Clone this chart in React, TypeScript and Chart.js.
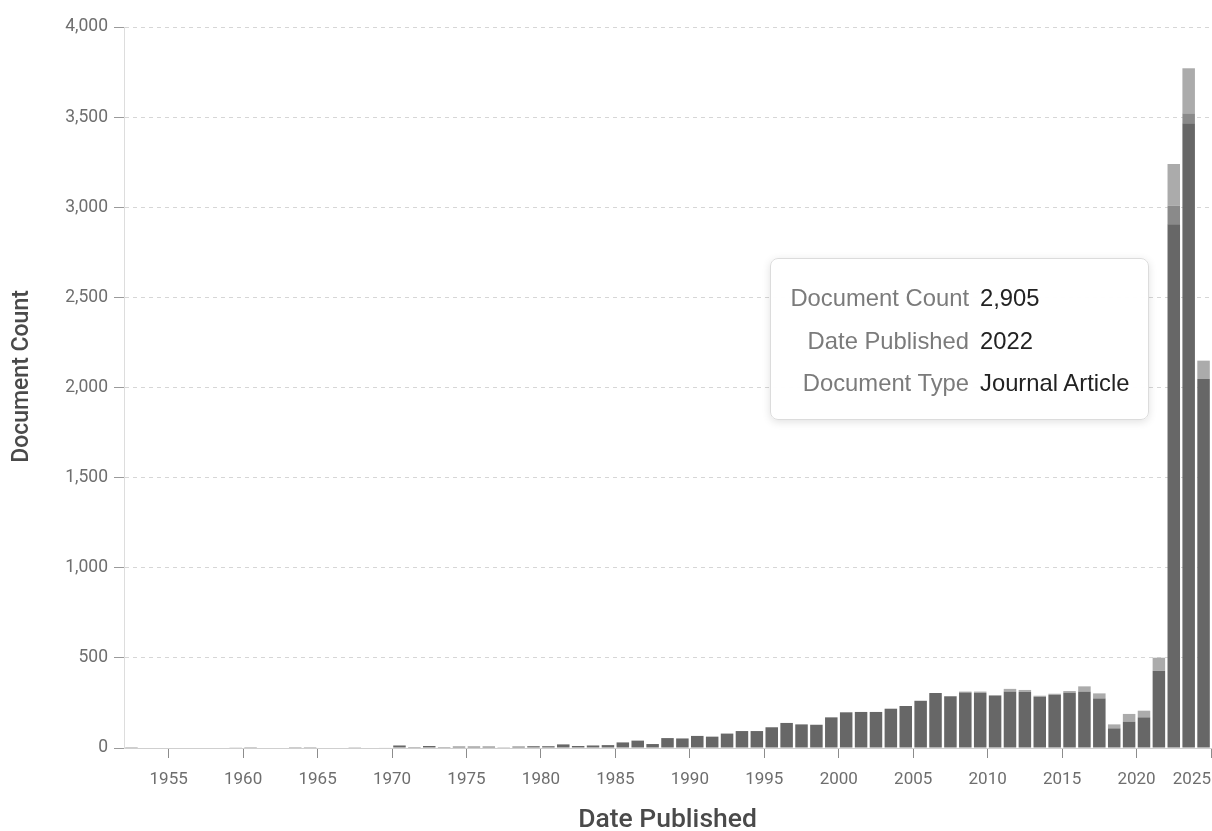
import React, { useEffect, useRef } from "react";
import { Chart, registerables } from "chart.js";

Chart.register(...registerables);

// Publication years (one bar per year, each bar spans [year, year + 1])
const years = [
  1952, 1953, 1954, 1955, 1956, 1957, 1958, 1959, 1960, 1961,
  1962, 1963, 1964, 1965, 1966, 1967, 1968, 1969, 1970, 1971,
  1972, 1973, 1974, 1975, 1976, 1977, 1978, 1979, 1980, 1981,
  1982, 1983, 1984, 1985, 1986, 1987, 1988, 1989, 1990, 1991,
  1992, 1993, 1994, 1995, 1996, 1997, 1998, 1999, 2000, 2001,
  2002, 2003, 2004, 2005, 2006, 2007, 2008, 2009, 2010, 2011,
  2012, 2013, 2014, 2015, 2016, 2017, 2018, 2019, 2020, 2021,
  2022, 2023, 2024,
];

// Document counts by type
const journalArticle = [
  1, 0, 0, 0, 0, 0, 0, 2, 1, 0,
  0, 1, 1, 0, 0, 4, 0, 3, 14, 5,
  11, 5, 8, 8, 8, 4, 8, 10, 10, 20,
  11, 14, 16, 31, 41, 22, 55, 53, 67, 63,
  80, 94, 94, 115, 139, 131, 129, 170, 198, 200,
  200, 218, 233, 262, 305, 287, 308, 305, 290, 313,
  311, 284, 294, 307, 313, 275, 109, 146, 170, 429,
  2905, 3466, 2047,
];

const conferencePaper = [
  0, 0, 0, 0, 0, 0, 0, 0, 0, 0,
  0, 0, 0, 0, 0, 0, 0, 0, 0, 0,
  0, 0, 0, 0, 0, 0, 0, 0, 0, 0,
  0, 0, 0, 0, 0, 0, 0, 0, 0, 0,
  0, 0, 0, 0, 0, 0, 0, 0, 0, 0,
  0, 0, 0, 0, 0, 0, 0, 0, 0, 0,
  0, 0, 0, 0, 0, 0, 0, 0, 0, 0,
  104, 55, 0,
];

const otherTypes = [
  0, 0, 0, 0, 0, 0, 0, 0, 0, 0,
  0, 0, 0, 0, 0, 0, 0, 0, 0, 0,
  0, 0, 0, 0, 0, 0, 0, 0, 0, 0,
  0, 0, 0, 0, 0, 0, 0, 0, 0, 0,
  0, 0, 0, 0, 0, 0, 0, 0, 0, 0,
  0, 0, 0, 0, 0, 0, 5, 8, 4, 15,
  11, 6, 7, 9, 29, 28, 22, 43, 37, 72,
  231, 250, 102,
];

const xDomainStart = 1952;
const xDomainEnd = 2025;
const xTickYears = [1955, 1960, 1965, 1970, 1975, 1980, 1985, 1990, 1995, 2000, 2005, 2010, 2015, 2020, 2025];
const yMax = 4000;
const yStep = 500;

const xTitle = "Date Published";
const yTitle = "Document Count";

const tooltipYear = 2022;
const tooltipType = "Journal Article";

const fmt = (v: number) => v.toLocaleString("en-US");

const axisTitlePlugin = {
  id: "axisTitles",
  afterDraw(chart: any) {
    const { ctx, chartArea } = chart;
    ctx.save();
    ctx.fillStyle = "#4a4a4a";
    ctx.textAlign = "center";
    ctx.textBaseline = "middle";
    ctx.font = "500 26.5px Roboto";
    ctx.fillText(xTitle, (chartArea.left + chartArea.right) / 2, 820);
    ctx.translate(22, (chartArea.top + chartArea.bottom) / 2 - 11);
    ctx.rotate(-Math.PI / 2);
    ctx.font = "500 23px Roboto";
    ctx.fillText(yTitle, 0, 0);
    ctx.restore();
  },
};

export default function App() {
  const canvasRef = useRef<HTMLCanvasElement | null>(null);

  useEffect(() => {
    if (!canvasRef.current) return;
    const toPoints = (arr: number[]) => arr.map((v, i) => ({ x: years[i] + 0.5, y: v }));
    const barOpts = { barPercentage: 0.84, categoryPercentage: 1, borderWidth: 0 };
    const chart = new Chart(canvasRef.current, {
      type: "bar",
      data: {
        datasets: [
          { label: "Journal Article", data: toPoints(journalArticle), backgroundColor: "#676767", ...barOpts },
          { label: "Conference Paper", data: toPoints(conferencePaper), backgroundColor: "#8a8a8a", ...barOpts },
          { label: "Other", data: toPoints(otherTypes), backgroundColor: "#ababab", ...barOpts },
        ],
      },
      plugins: [axisTitlePlugin],
      options: {
        animation: false,
        responsive: false,
        devicePixelRatio: 1,
        layout: { padding: { top: 27, right: 1, bottom: 0, left: 0 } },
        plugins: { legend: { display: false }, tooltip: { enabled: false } },
        scales: {
          x: {
            type: "linear",
            stacked: true,
            offset: false,
            min: xDomainStart,
            max: xDomainEnd,
            afterBuildTicks: (axis: any) => {
              axis.ticks = [xDomainStart, ...xTickYears].map((v) => ({ value: v }));
            },
            afterFit: (scale: any) => {
              scale.height = 83;
              scale.paddingLeft = 0;
              scale.paddingRight = 0;
            },
            grid: {
              offset: false,
              drawOnChartArea: false,
              drawTicks: true,
              tickLength: 10,
              tickColor: (ctx: any) => (ctx.tick && ctx.tick.value === xDomainStart ? "rgba(0,0,0,0)" : "#8c8c8c"),
            },
            border: { display: true, color: "#cfcfcf", width: 1 },
            ticks: {
              autoSkip: false,
              maxRotation: 0,
              minRotation: 0,
              align: "inner",
              padding: 12,
              color: "#6e6e6e",
              font: { family: "Roboto", size: 17 },
              callback: (v: any) => (v === xDomainStart ? "" : String(v)),
            },
          },
          y: {
            stacked: true,
            min: 0,
            max: yMax,
            afterFit: (scale: any) => {
              scale.width = 124;
            },
            grid: {
              color: "#d6d6d6",
              drawTicks: true,
              tickLength: 10,
              tickColor: "#9a9a9a",
              tickBorderDash: [],
            },
            border: { display: true, color: "#dddddd", width: 1, dash: [4, 4] },
            ticks: {
              stepSize: yStep,
              padding: 6,
              color: "#6e6e6e",
              font: { family: "Roboto", size: 17.5 },
              callback: (v: any) => fmt(Number(v)),
            },
          },
        },
      } as any,
    });
    return () => chart.destroy();
  }, []);

  const idx = years.indexOf(tooltipYear);
  const rows: [string, string][] = [
    ["Document Count", fmt(journalArticle[idx])],
    ["Date Published", String(tooltipYear)],
    ["Document Type", tooltipType],
  ];

  return (
    <div style={{ position: "fixed", left: 0, top: 0, width: 1212, height: 831, background: "#fff", overflow: "hidden" }}>
      <canvas ref={canvasRef} width={1212} height={831} style={{ display: "block", width: 1212, height: 831 }} />
      <div
        style={{
          position: "absolute",
          left: 770,
          top: 258,
          width: 379,
          height: 162,
          boxSizing: "border-box",
          background: "rgba(255,255,255,0.97)",
          border: "1px solid #dcdcdc",
          borderRadius: 8,
          boxShadow: "0 2px 8px rgba(0,0,0,0.12)",
          fontFamily: "'Liberation Sans', Arial, sans-serif",
          fontSize: 23.8,
        }}
      >
        {rows.map(([k, v], i) => (
          <div key={k} style={{ position: "absolute", left: 0, right: 0, top: 24 + i * 42.7, height: 30, lineHeight: "30px" }}>
            <span style={{ position: "absolute", right: 179, color: "#7b7b7b", whiteSpace: "nowrap" }}>{k}</span>
            <span style={{ position: "absolute", left: 209, color: "#222", whiteSpace: "nowrap" }}>{v}</span>
          </div>
        ))}
      </div>
    </div>
  );
}
